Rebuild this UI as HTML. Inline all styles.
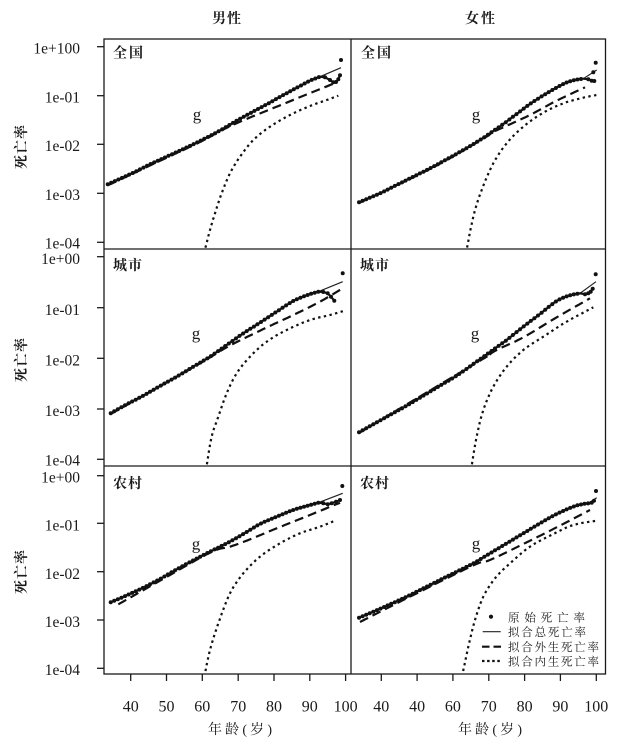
<!DOCTYPE html>
<html><head><meta charset="utf-8">
<style>
html,body{margin:0;padding:0;background:#fff;}
svg{display:block;}
.tk{font-family:"Liberation Serif","Noto Serif CJK SC",serif;font-size:15.5px;fill:#1a1a1a;}
.cj{font-family:"Liberation Serif","Noto Serif CJK SC",serif;fill:#1a1a1a;}
</style></head><body>
<svg id="s" width="620" height="745" viewBox="0 0 620 745" xmlns="http://www.w3.org/2000/svg">
<defs id="defs"></defs>
<rect x="0" y="0" width="620" height="745" fill="#fff"/>
<g id="curves"></g>
<!-- frame -->
<g stroke="#1a1a1a" stroke-width="1.3" fill="none">
<rect x="104" y="39" width="501.5" height="635"/>
<line x1="351" y1="39" x2="351" y2="674"/>
<line x1="104" y1="249" x2="605.5" y2="249"/>
<line x1="104" y1="466" x2="605.5" y2="466"/>
<!-- y ticks -->
<line x1="97" y1="46.7" x2="104" y2="46.7"/><line x1="97" y1="95.7" x2="104" y2="95.7"/><line x1="97" y1="144.3" x2="104" y2="144.3"/><line x1="97" y1="193.3" x2="104" y2="193.3"/><line x1="97" y1="242.3" x2="104" y2="242.3"/>
<line x1="97" y1="256.7" x2="104" y2="256.7"/><line x1="97" y1="307.7" x2="104" y2="307.7"/><line x1="97" y1="358.3" x2="104" y2="358.3"/><line x1="97" y1="409" x2="104" y2="409"/><line x1="97" y1="459.3" x2="104" y2="459.3"/>
<line x1="97" y1="475.7" x2="104" y2="475.7"/><line x1="97" y1="523.3" x2="104" y2="523.3"/><line x1="97" y1="571.7" x2="104" y2="571.7"/><line x1="97" y1="620" x2="104" y2="620"/><line x1="97" y1="668.3" x2="104" y2="668.3"/>
<!-- x ticks -->
<line x1="130.7" y1="674" x2="130.7" y2="681"/><line x1="166.5" y1="674" x2="166.5" y2="681"/><line x1="202.3" y1="674" x2="202.3" y2="681"/><line x1="238.2" y1="674" x2="238.2" y2="681"/><line x1="274" y1="674" x2="274" y2="681"/><line x1="309.8" y1="674" x2="309.8" y2="681"/><line x1="345.6" y1="674" x2="345.6" y2="681"/>
<line x1="381.3" y1="674" x2="381.3" y2="681"/><line x1="417.1" y1="674" x2="417.1" y2="681"/><line x1="452.9" y1="674" x2="452.9" y2="681"/><line x1="488.8" y1="674" x2="488.8" y2="681"/><line x1="524.6" y1="674" x2="524.6" y2="681"/><line x1="560.4" y1="674" x2="560.4" y2="681"/><line x1="596.3" y1="674" x2="596.3" y2="681"/>
</g>
<!-- y tick labels -->
<g class="tk" text-anchor="end">
<text x="80" y="53.3">1e+100</text><text x="80" y="102.5">1e-01</text><text x="80" y="151">1e-02</text><text x="80" y="200">1e-03</text><text x="80" y="248.3">1e-04</text>
<text x="80" y="264">1e+00</text><text x="80" y="315">1e-01</text><text x="80" y="365.5">1e-02</text><text x="80" y="416">1e-03</text><text x="80" y="465.5">1e-04</text>
<text x="80" y="482.5">1e+00</text><text x="80" y="530.5">1e-01</text><text x="80" y="579">1e-02</text><text x="80" y="627">1e-03</text><text x="80" y="675">1e-04</text>
</g>
<!-- x tick labels -->
<g class="tk" text-anchor="middle" style="font-size:16px">
<text x="130.7" y="711.5">40</text><text x="166.5" y="711.5">50</text><text x="202.3" y="711.5">60</text><text x="238.2" y="711.5">70</text><text x="274" y="711.5">80</text><text x="309.8" y="711.5">90</text><text x="345.6" y="711.5">100</text>
<text x="381.3" y="711.5">40</text><text x="417.1" y="711.5">40</text><text x="452.9" y="711.5">60</text><text x="488.8" y="711.5">70</text><text x="524.6" y="711.5">80</text><text x="560.4" y="711.5">90</text><text x="596.3" y="711.5">100</text>
</g>
<!-- axis titles -->
<g class="cj" style="font-size:14px">
<text x="208" y="734" textLength="64">年龄(岁)</text>
<text x="458" y="734" textLength="64">年龄(岁)</text>
<text x="212" y="23" textLength="29" style="font-weight:bold">男性</text>
<text x="465" y="23" textLength="30" style="font-weight:bold">女性</text>
<text transform="translate(26,169) rotate(-90)" textLength="44" style="font-weight:bold">死亡率</text>
<text transform="translate(26,382) rotate(-90)" textLength="44" style="font-weight:bold">死亡率</text>
<text transform="translate(26,594) rotate(-90)" textLength="44" style="font-weight:bold">死亡率</text>
</g>
<!-- panel labels -->
<g class="cj" style="font-size:14px;font-weight:bold">
<text x="113" y="57.5" textLength="30">全国</text>
<text x="361" y="57.5" textLength="30">全国</text>
<text x="113" y="270" textLength="29">城市</text>
<text x="360" y="270" textLength="29">城市</text>
<text x="113" y="488" textLength="29">农村</text>
<text x="360" y="488" textLength="29">农村</text>
</g>
<!-- g labels -->
<g class="tk" text-anchor="middle" style="font-size:17px">
<text x="197" y="120">g</text>
<text x="476" y="120">g</text>
<text x="196" y="339">g</text>
<text x="475" y="339">g</text>
<text x="196" y="549.5">g</text>
<text x="476" y="549">g</text>
</g>
<!-- legend -->
<g>
<circle cx="491" cy="616.7" r="2.1" fill="#111"/>
<line x1="482.7" y1="631.7" x2="500.7" y2="631.7" stroke="#222" stroke-width="1.1"/>
<line x1="482" y1="646.7" x2="501" y2="646.7" stroke="#111" stroke-width="2.2" stroke-dasharray="7.5 4"/>
<line x1="482" y1="661" x2="501" y2="661" stroke="#111" stroke-width="2.2" stroke-dasharray="2.5 2.6"/>
</g>
<g class="cj" style="font-size:11.5px">
<text x="508" y="621.5" textLength="77">原始死亡率</text>
<text x="508" y="636" textLength="78">拟合总死亡率</text>
<text x="508" y="651" textLength="91">拟合外生死亡率</text>
<text x="508" y="665.5" textLength="91">拟合内生死亡率</text>
</g>
</svg>
<script>
(function(){
const NS="http://www.w3.org/2000/svg";
const defs=document.getElementById('defs');
const root=document.getElementById('curves');
function el(tag,attrs,parent){const e=document.createElementNS(NS,tag);for(const k in attrs)e.setAttribute(k,attrs[k]);parent.appendChild(e);return e;}
function spline(pts,n){n=n||10;const out=[];for(let i=0;i<pts.length-1;i++){const p0=pts[i-1]||pts[i],p1=pts[i],p2=pts[i+1],p3=pts[i+2]||pts[i+1];for(let s=0;s<n;s++){const t=s/n,t2=t*t,t3=t2*t;const f=(a,b,c,d)=>0.5*((2*b)+(-a+c)*t+(2*a-5*b+4*c-d)*t2+(-a+3*b-3*c+d)*t3);out.push([f(p0[0],p1[0],p2[0],p3[0]),f(p0[1],p1[1],p2[1],p3[1])]);}}out.push(pts[pts.length-1]);return out;}
function interpY(d,x){for(let i=0;i<d.length-1;i++){const a=d[i],b=d[i+1];if((x>=a[0]&&x<=b[0])||(x<=a[0]&&x>=b[0])){const t=(b[0]===a[0])?0:(x-a[0])/(b[0]-a[0]);return a[1]+t*(b[1]-a[1]);}}return d[d.length-1][1];}
function path(p){return 'M'+p.map(q=>q[0].toFixed(1)+','+q[1].toFixed(1)).join('L');}
const panels=[
{ox:0,oy:0,
 tot:[[323,553],[400,518],[450,493],[500,470],[550,447],[600,423],[650,397],[700,368],[750,340],[800,313],[850,285],[900,258],[930,242],[960,230]],
 tail:[[975,232],[990,240],[1000,247],[1008,246],[1015,238],[1020,226]],
 extra:[],iso:[[1023,180]],ext:[1023,203],
 exo:[[323,556],[500,473],[600,426],[700,374],[850,312],[1010,247]],
 endo:[[612,760],[630,690],[645,640],[665,580],[690,520],[720,470],[760,420],[810,380],[870,345],[930,318],[980,300],[1015,287]]},
{ox:330,oy:0,
 tot:[[87,607],[150,580],[200,555],[250,530],[300,505],[350,478],[400,450],[450,420],[490,393],[520,372],[560,342],[600,312],[650,280],[700,252],[730,241],[760,236]],
 tail:[[775,238],[785,242],[793,243]],
 extra:[[790,217]],iso:[[797,188]],ext:[800,210],
 exo:[[87,609],[300,507],[450,422],[490,396],[520,382],[600,345],[680,302],[765,262]],
 endo:[[408,760],[430,650],[455,570],[490,490],[530,430],[580,380],[640,338],[700,310],[760,293],[800,285]]},
{ox:60,oy:230,
 tot:[[152,550],[200,523],[250,497],[300,468],[350,440],[400,410],[450,380],[500,345],[550,310],[600,278],[650,245],[700,213],[740,196],[775,185]],
 tail:[[790,186],[803,190],[813,200],[823,212]],
 extra:[],iso:[[848,130]],ext:[848,155],
 exo:[[152,552],[400,412],[500,352],[600,302],[700,255],[780,215],[848,175]],
 endo:[[438,720],[455,620],[475,560],[500,490],[530,430],[570,380],[620,335],[680,300],[750,270],[810,255],[850,243]]},
{ox:340,oy:230,
 tot:[[57,607],[100,583],[150,555],[200,527],[250,497],[300,467],[350,437],[400,402],[450,366],[500,330],[550,290],[600,252],[650,213],[690,196],[720,190]],
 tail:[[735,193],[745,190],[752,185],[758,176]],
 extra:[],iso:[[767,133]],ext:[768,155],
 exo:[[57,609],[400,404],[440,380],[470,360],[550,322],[650,262],[750,205]],
 endo:[[393,720],[410,620],[430,540],[460,470],[500,410],[550,360],[610,320],[680,275],[760,232]]},
{ox:60,oy:450,
 tot:[[152,457],[200,436],[250,413],[300,387],[350,358],[400,331],[450,305],[500,280],[550,252],[600,222],[650,200],[700,180],[750,165],[775,158]],
 tail:[[790,160],[803,163],[815,160],[828,155],[840,150]],
 extra:[],iso:[[847,108]],ext:[848,130],
 exo:[[175,463],[300,392],[450,308],[510,290],[560,272],[650,235],[750,195],[840,158]],
 endo:[[433,680],[450,600],[475,520],[510,430],[550,370],[600,320],[660,280],[720,250],[780,230],[825,212]]},
{ox:340,oy:450,
 tot:[[57,503],[100,485],[150,463],[200,440],[250,415],[300,390],[350,365],[400,340],[450,310],[500,280],[550,250],[600,220],[650,192],[700,170],[730,162],[745,160]],
 tail:[[755,158],[762,152]],
 extra:[],iso:[[768,123]],ext:[770,143],
 exo:[[60,516],[200,445],[400,346],[450,330],[550,282],[650,232],[750,180]],
 endo:[[366,680],[385,590],[405,510],[430,440],[465,385],[510,340],[570,290],[640,252],[700,225],[770,212]]}
];
const rects=[[104,39,351,249],[351,39,605.5,249],[104,249,351,466],[351,249,605.5,466],[104,466,351,674],[351,466,605.5,674]];
panels.forEach((p,i)=>{
 const r=rects[i];
 const cp=el('clipPath',{id:'c'+i},defs);
 el('rect',{x:r[0],y:r[1],width:r[2]-r[0],height:r[3]-r[1]},cp);
 const g=el('g',{'clip-path':'url(#c'+i+')',fill:'none'},root);
 const T=a=>a.map(q=>[p.ox+q[0]/3,p.oy+q[1]/3]);
 const tot=spline(T(p.tot),12), exo=spline(T(p.exo),12), endo=spline(T(p.endo),12);
 el('path',{d:path(endo),stroke:'#111','stroke-width':2.2,'stroke-dasharray':'2.4 3.4'},g);
 el('path',{d:path(exo),stroke:'#111','stroke-width':2.2,'stroke-dasharray':'9 5'},g);
 const ext=T([p.ext])[0];
 el('path',{d:path(tot.concat([ext])),stroke:'#222','stroke-width':1.2},g);
 const tail=T(p.tail);
 el('path',{d:path(tot.concat(tail)),stroke:'#111','stroke-width':2.2},g);
 const x0=tot[0][0], x1=tot[tot.length-1][0];
 for(let x=x0;x<=x1+0.01;x+=3.58){el('circle',{cx:x.toFixed(1),cy:interpY(tot,x).toFixed(1),r:2.0,fill:'#111'},g);}
 tail.concat(T(p.extra)).concat(T(p.iso)).forEach(q=>el('circle',{cx:q[0].toFixed(1),cy:q[1].toFixed(1),r:2.0,fill:'#111'},g));
});
})();
</script>
</body></html>
